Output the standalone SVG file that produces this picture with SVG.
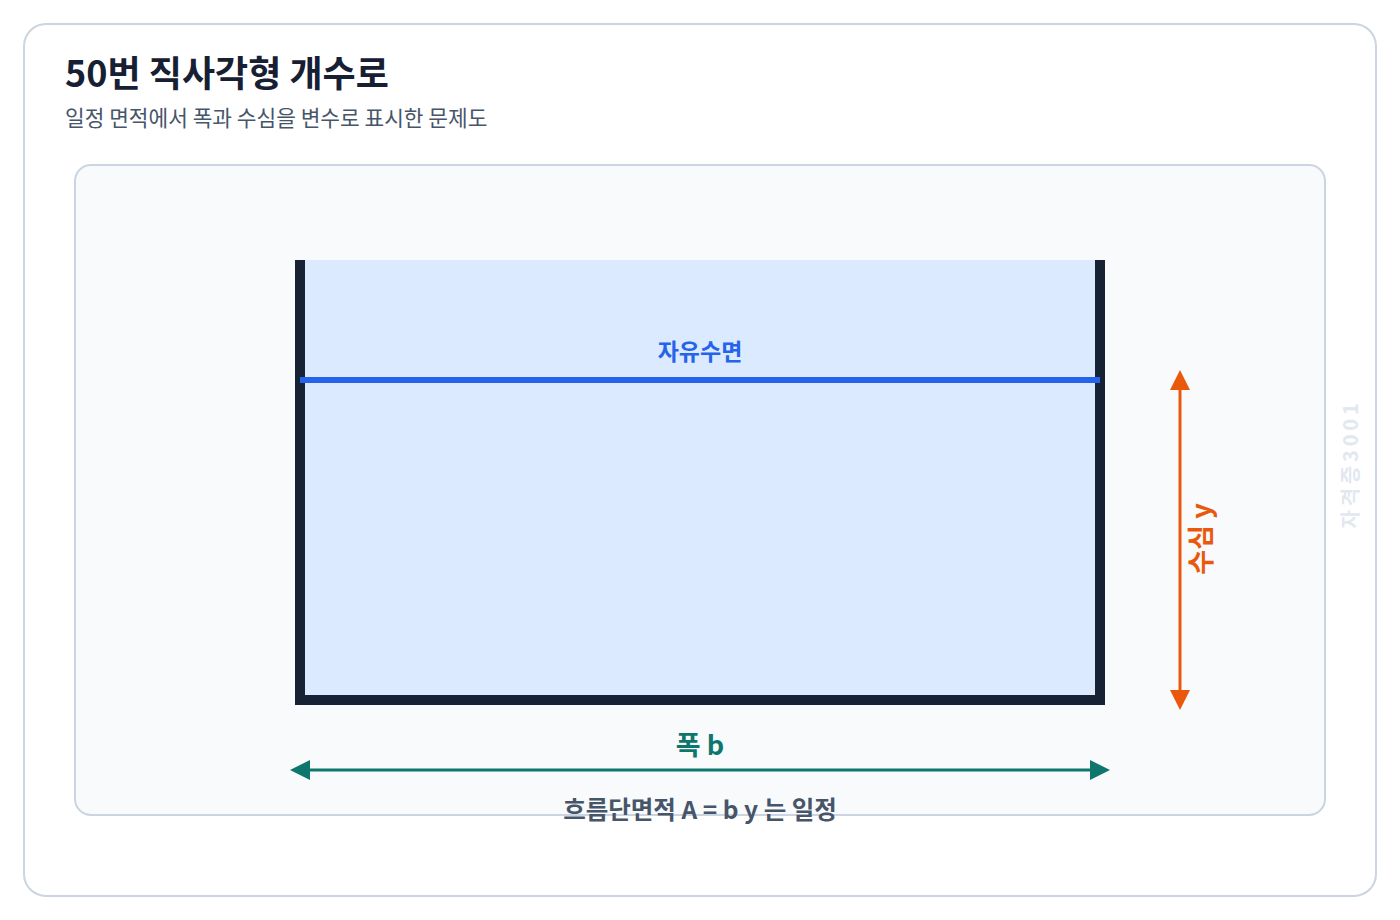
<svg xmlns="http://www.w3.org/2000/svg" width="1400" height="920" viewBox="0 0 1400 920">
  <style>
    .kr { font-family: "Noto Sans CJK KR", "Noto Sans", sans-serif; }
    .title { font-size: 36px; font-weight: 700; fill: #172033; }
    .sub { font-size: 21.4px; font-weight: 400; fill: #475569; }
    .lbl { font-weight: 700; text-anchor: middle; }
  </style>
  <defs>
    <marker id="arrOrange" markerUnits="userSpaceOnUse" markerWidth="20" markerHeight="20" refX="0" refY="10" orient="auto-start-reverse" viewBox="0 0 20 20">
      <path d="M0,0 L20,10 L0,20 Z" fill="#ea580c"/>
    </marker>
    <marker id="arrTeal" markerUnits="userSpaceOnUse" markerWidth="20" markerHeight="20" refX="0" refY="10" orient="auto-start-reverse" viewBox="0 0 20 20">
      <path d="M0,0 L20,10 L0,20 Z" fill="#0f766e"/>
    </marker>
  </defs>

  <rect id="card" x="24" y="24" width="1352" height="872" rx="22" fill="#ffffff" stroke="#cbd5e1" stroke-width="2"/>
  <g id="header" class="kr">
    <text class="title" x="65" y="87">50번 직사각형 개수로</text>
    <text class="sub" x="65" y="126">일정 면적에서 폭과 수심을 변수로 표시한 문제도</text>
  </g>

  <rect id="panel" x="75" y="165" width="1250" height="650" rx="16" fill="#f8fafc" stroke="#cbd5e1" stroke-width="2"/>

  <g id="channel">
    <rect x="300" y="260" width="800" height="440" fill="#dbeafe"/>
    <path d="M300,260 V700 H1100 V260" fill="none" stroke="#182235" stroke-width="10" stroke-linejoin="miter"/>
  </g>

  <g id="free-surface">
    <line x1="300" y1="380" x2="1100" y2="380" stroke="#2563eb" stroke-width="6"/>
    <text class="kr lbl" x="700" y="360" font-size="23" fill="#2563eb">자유수면</text>
  </g>

  <g id="connectors">
    <line x1="1180" y1="390" x2="1180" y2="690" stroke="#ea580c" stroke-width="3" marker-start="url(#arrOrange)" marker-end="url(#arrOrange)"/>
    <line x1="310" y1="770" x2="1090" y2="770" stroke="#0f766e" stroke-width="3" marker-start="url(#arrTeal)" marker-end="url(#arrTeal)"/>
  </g>

  <g id="depth-label">
    <text class="kr lbl" transform="translate(1211,539) rotate(-90)" font-size="27" fill="#ea580c">수심 y</text>
  </g>

  <g id="width-label">
    <text class="kr lbl" x="700" y="755" font-size="27" fill="#0f766e">폭 b</text>
  </g>

  <g id="area-note">
    <text class="kr lbl" x="700" y="819" font-size="24.5" fill="#475569">흐름단면적 A = b y 는 일정</text>
  </g>

  <g id="watermark">
    <text class="kr" transform="translate(1358,464) rotate(-90)" font-size="20" font-weight="700" fill="#e2e8f0" text-anchor="middle" letter-spacing="3.8">자격증3001</text>
  </g>
</svg>
